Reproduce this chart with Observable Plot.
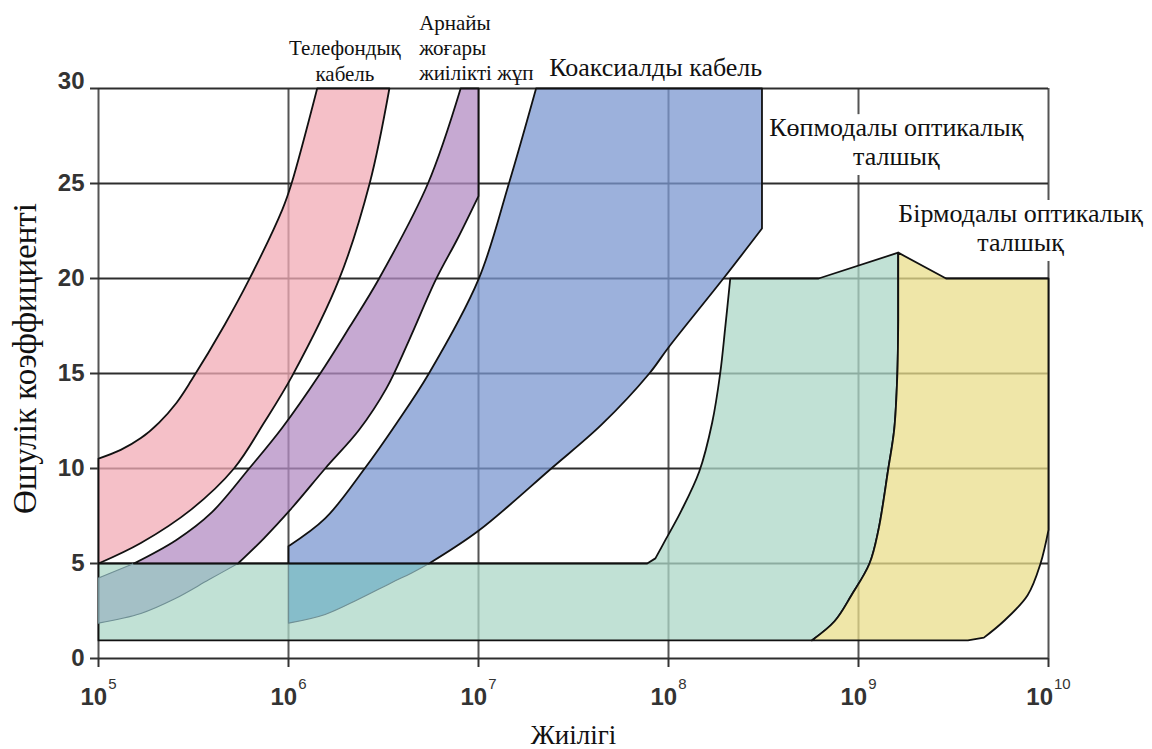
<!DOCTYPE html>
<html>
<head>
<meta charset="utf-8">
<script src="https://cdn.jsdelivr.net/npm/d3@7"></script>
<script src="https://cdn.jsdelivr.net/npm/@observablehq/plot@0.6"></script>
<style>
  html, body { margin: 0; padding: 0; background: #fff; }
  #chart { width: 1152px; height: 749px; }
</style>
</head>
<body>
<div id="chart"></div>
<script>
// ---------- axis ticks ----------
const xTickExp = [5, 6, 7, 8, 9, 10];            // log10 of frequency
const yTicks = [0, 5, 10, 15, 20, 25, 30];        // attenuation

// ---------- bands (log10 frequency, attenuation) ----------
// Телефондық кабель
const telephoneExp = [5.0, 5.117, 5.223, 5.319, 5.41, 5.489, 5.665, 5.793, 5.968, 6.016, 6.151, 6.531, 6.427, 6.266, 6.021, 5.872, 5.713, 5.489, 5.223, 5.0];
const telephoneAtt = [10.52, 10.98, 11.6, 12.42, 13.45, 14.64, 17.58, 19.95, 23.64, 25, 30, 30, 25, 19.95, 14.9, 12.42, 10, 7.85, 6.08, 5.0];

// Арнайы жоғары жиілікті жұп (above 5) and its lower part (below 5)
const pairExp = [5.186, 5.41, 5.596, 5.793, 5.968, 6.167, 6.323, 6.474, 6.734, 6.906, 7.0, 7.0, 6.891, 6.776, 6.635, 6.516, 6.37, 6.193, 6.021, 5.872, 5.734];
const pairAtt = [5, 6.24, 7.69, 10, 12.16, 15, 17.47, 19.95, 25, 30, 30, 24.34, 22.12, 19.95, 16.76, 14.23, 12.01, 10, 7.96, 6.34, 5];
const pairLowExp = [5.0, 5.186, 5.734, 5.58, 5.399, 5.223, 5.0];
const pairLowAtt = [4.24, 5, 5, 4.14, 3.13, 2.37, 1.86];

// Коаксиалды кабель (above 5) and its lower part (below 5)
const coaxExp = [6.0, 6.0, 6.193, 6.401, 6.568, 6.739, 7.0, 7.16, 7.303, 8.492, 8.492, 8.293, 8.0, 7.899, 7.649, 7.383, 7.0, 6.74];
const coaxAtt = [5, 5.91, 7.37, 10, 12.37, 15, 19.95, 25, 30, 30, 22.63, 20.05, 16.37, 15, 12.32, 10, 6.72, 5];
const coaxLowExp = [6.0, 6.74, 6.646, 6.542, 6.371, 6.193, 6.0];
const coaxLowAtt = [5, 5, 4.49, 3.99, 3.13, 2.32, 1.86];

// Көпмодалы оптикалық талшық (outer part, before the shared edge)
const multiExp = [5.0, 5.0, 7.888, 7.931, 7.984, 8.063, 8.162, 8.23, 8.272, 8.298, 8.325, 8.79];
const multiAtt = [0.95, 5, 5, 5.27, 6.24, 7.69, 9.84, 12.42, 15, 17.36, 20, 20];

// shared edge between multimode and single-mode fibre (from the peak down)
const fiberEdgeExp = [9.209, 9.209, 9.204, 9.188, 9.157, 9.105, 9.058, 8.963, 8.874, 8.754];
const fiberEdgeAtt = [21.36, 17.75, 14.85, 12.06, 10, 6.77, 5, 3.33, 1.96, 0.95];

// Бірмодалы оптикалық талшық (outer part)
const singleExp = [9.461, 10, 10, 9.958, 9.89, 9.764, 9.66, 9.576];
const singleAtt = [20, 20, 6.77, 5, 3.33, 1.96, 1.10, 0.95];

// ---------- labels ----------
const labelTexts = ["Телефондық\nкабель", "Арнайы\nжоғары\nжиілікті жұп", "Коаксиалды кабель", "Көпмодалы оптикалық\nталшық", "Бірмодалы оптикалық\nталшық"];
const labelExp = [6.297, 6.6875, 7.372, 9.199, 9.853];
const labelAtt = [30.38, 30.43, 30.65, 25.98, 21.46];
const yTitle = "Өшулік коэффициенті";
const xTitle = "Жиілігі";

// ---------- build tables ----------
// A closed ring of points. Vertices where the outline turns sharply, or that end a
// horizontal/vertical edge, are doubled so the Catmull-Rom curve keeps a corner there.
function ring(exps, atts) {
  const pts = exps.map((e, i) => ({e, v: atts[i], px: e * 190, py: -atts[i] * 19}));
  const n = pts.length;
  const straight = (a, b) => Math.abs(a.e - b.e) < 1e-9 || Math.abs(a.v - b.v) < 1e-9;
  const corner = pts.map((p, i) => {
    const a = pts[(i - 1 + n) % n], b = pts[(i + 1) % n];
    if (straight(a, p) || straight(p, b)) return true;
    const d1 = Math.atan2(p.py - a.py, p.px - a.px);
    const d2 = Math.atan2(b.py - p.py, b.px - p.px);
    let t = Math.abs(d2 - d1);
    if (t > Math.PI) t = 2 * Math.PI - t;
    return t > 25 * Math.PI / 180;
  });
  const out = [];
  for (let i = 0; i <= n; i++) {
    const k = i % n, p = pts[k], row = {f: 10 ** p.e, v: p.v};
    out.push(row);
    if (corner[k]) out.push({...row});
  }
  return out;
}
const rev = a => a.slice().reverse();

const telephone = ring(telephoneExp, telephoneAtt);
const pair = ring(pairExp, pairAtt);
const pairLow = ring(pairLowExp, pairLowAtt);
const coax = ring(coaxExp, coaxAtt);
const coaxLow = ring(coaxLowExp, coaxLowAtt);
const multi = ring(multiExp.concat(fiberEdgeExp), multiAtt.concat(fiberEdgeAtt));
const single = ring(singleExp.concat(rev(fiberEdgeExp)), singleAtt.concat(rev(fiberEdgeAtt)));

const xTicks = xTickExp.map(e => 10 ** e);
const serif = "'Liberation Serif', 'Times New Roman', serif";

const band = (rows, fill, stroke, sw) => Plot.line(rows, {
  x: "f", y: "v", curve: "catmull-rom", fill, fillOpacity: 0.75,
  stroke, strokeWidth: sw, strokeLinejoin: "round"
});
const label = (i, o) => Plot.text([i], {
  x: d => 10 ** labelExp[d], y: d => labelAtt[d], text: d => labelTexts[d],
  fontFamily: serif, fill: "#111", lineAnchor: "bottom", ...o
});

const svg = Plot.plot({
  width: 1152,
  height: 749,
  marginLeft: 98,
  marginRight: 104,
  marginTop: 88,
  marginBottom: 91,
  style: {fontFamily: "'Liberation Sans', Arial, sans-serif", background: "#fff"},
  x: {type: "log", domain: [1e5, 1e10], label: null},
  y: {domain: [0, 30], label: null},
  marks: [
    Plot.ruleX(xTicks, {stroke: "#555", strokeWidth: 2}),
    Plot.ruleY(yTicks, {stroke: "#2e2e2e", strokeWidth: 2}),
    label(3, {fontSize: 26, textAnchor: "middle", lineHeight: 1.12, stroke: "white", strokeWidth: 20}),
    label(4, {fontSize: 26, textAnchor: "middle", lineHeight: 1.1, stroke: "white", strokeWidth: 20}),
    band(multi, "#acd7c7", "#111", 1.8),
    band(single, "#eadd8b", "#111", 1.8),
    band(pairLow, "#9ab4c0", "#6f8f94", 1.1),
    band(coaxLow, "#72b0c5", "#6f8f94", 1.1),
    band(telephone, "#f2abb6", "#111", 1.8),
    band(pair, "#b38cc3", "#111", 1.8),
    band(coax, "#7b97d0", "#111", 1.8),
    label(0, {fontSize: 21, textAnchor: "middle", lineHeight: 1.25}),
    label(1, {fontSize: 21, textAnchor: "start", lineHeight: 1.2}),
    label(2, {fontSize: 26, textAnchor: "start"}),
    Plot.axisX(xTicks, {
      tickSize: 9, tickPadding: 20, fontSize: 24, fontWeight: "bold", color: "#333",
      strokeWidth: 2, label: null, tickFormat: d => "10^" + Math.round(Math.log10(d))
    }),
    Plot.axisY(yTicks, {
      tickSize: 8, tickPadding: 6, fontSize: 24, fontWeight: "bold", color: "#333",
      strokeWidth: 2, label: null, tickFormat: d => String(d)
    }),
    Plot.text([yTitle], {
      frameAnchor: "left", dx: -73, dy: -15, rotate: -90, text: d => d,
      fontSize: 33, fontFamily: serif, fill: "#111", textAnchor: "middle", lineAnchor: "middle"
    }),
    Plot.text([xTitle], {
      frameAnchor: "bottom", dy: 77, text: d => d,
      fontSize: 27, fontFamily: serif, fill: "#111", textAnchor: "middle", lineAnchor: "middle"
    })
  ]
});

// superscript exponents for x tick labels; top label "30" sits on its line
const NS = "http://www.w3.org/2000/svg";
d3.select(svg).selectAll("text").each(function () {
  const t = this.textContent;
  if (/^10\^\d+$/.test(t)) {
    const exp = t.split("^")[1];
    this.textContent = "";
    const base = document.createElementNS(NS, "tspan");
    base.textContent = "10";
    const sup = document.createElementNS(NS, "tspan");
    sup.textContent = exp;
    sup.setAttribute("font-size", "15");
    sup.setAttribute("font-weight", "normal");
    sup.setAttribute("dy", "-16");
    sup.setAttribute("dx", "1");
    this.append(base, sup);
  } else if (t === "30" && this.closest("g[aria-label*='y-axis']")) {
    this.setAttribute("y", "0em");
  }
});

document.getElementById("chart").append(svg);
</script>
</body>
</html>
